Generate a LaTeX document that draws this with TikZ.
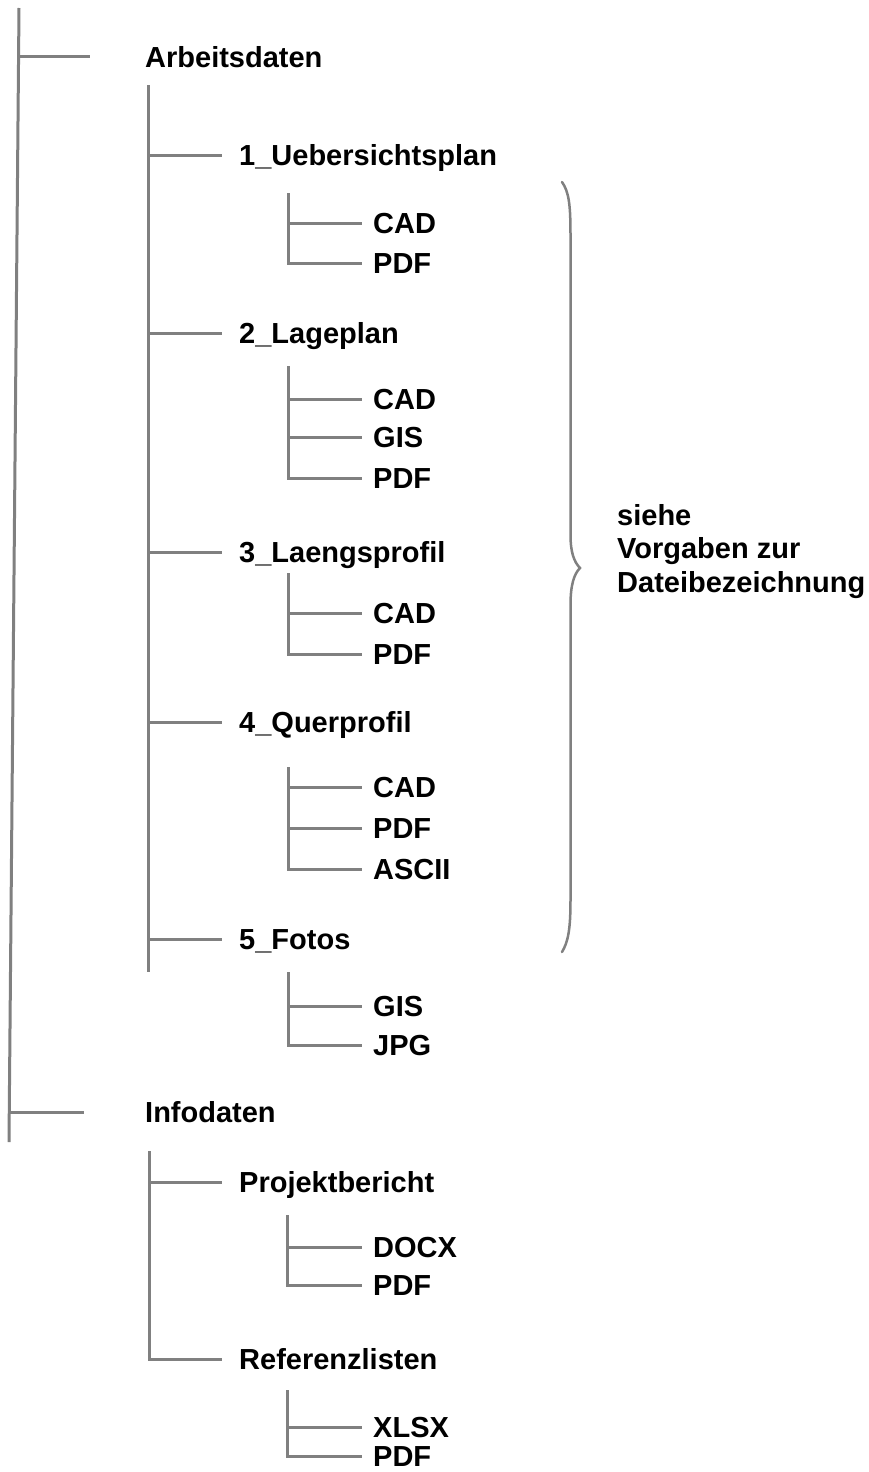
\documentclass[tikz,border=0pt]{standalone}
\usepackage{fontspec}
\setmainfont{Liberation Sans}
\definecolor{linegray}{RGB}{128,128,128}
\tikzset{
  tree/.style={draw=linegray, line width=3pt, line cap=butt, line join=miter},
  lbl/.style={anchor=base west, inner sep=0pt, font=\fontsize{29}{33.5}\selectfont\bfseries},
}
\begin{document}
\begin{tikzpicture}[x=1pt,y=-1pt]
\useasboundingbox (0,0) rectangle (869,1472);
% labels: baseline = tick y + 10
\node[lbl] (arb) at (145,67) {Arbeitsdaten};
\node[lbl] (u1) at (239,165) {1\_Uebersichtsplan};
\node[lbl] (u1cad) at (373,233) {CAD};
\node[lbl] (u1pdf) at (373,273) {PDF};
\node[lbl] (u2) at (239,343) {2\_Lageplan};
\node[lbl] (u2cad) at (373,409) {CAD};
\node[lbl] (u2gis) at (373,447) {GIS};
\node[lbl] (u2pdf) at (373,488) {PDF};
\node[lbl] (u3) at (239,562) {3\_Laengsprofil};
\node[lbl] (u3cad) at (373,623) {CAD};
\node[lbl] (u3pdf) at (373,664) {PDF};
\node[lbl] (u4) at (239,732) {4\_Querprofil};
\node[lbl] (u4cad) at (373,797) {CAD};
\node[lbl] (u4pdf) at (373,838) {PDF};
\node[lbl] (u4asc) at (373,879) {ASCII};
\node[lbl] (u5) at (239,949) {5\_Fotos};
\node[lbl] (u5gis) at (373,1016) {GIS};
\node[lbl] (u5jpg) at (373,1055) {JPG};
\node[lbl] (inf) at (145,1122) {Infodaten};
\node[lbl] (pb) at (239,1192) {Projektbericht};
\node[lbl] (pbdoc) at (373,1257) {DOCX};
\node[lbl] (pbpdf) at (373,1295) {PDF};
\node[lbl] (rl) at (239,1369) {Referenzlisten};
\node[lbl] (rlxls) at (373,1437) {XLSX};
\node[lbl] (rlpdf) at (373,1466) {PDF};
\node[lbl, align=left, anchor=north west] (note) at (617,504) {siehe\\Vorgaben zur\\Dateibezeichnung};
% root spine
\draw[tree] (19,8) -- (9,1142);
\draw[tree] (18.6,57) -- ([xshift=-55pt,yshift=10pt]arb.base west);
\draw[tree] (10,1112) -- ([xshift=-61pt,yshift=10pt]inf.base west);
% Arbeitsdaten level
\draw[tree] (148,85) -- (148,972);
\foreach \n in {u1,u2,u3,u4,u5}
  \draw[tree] ([yshift=10pt]148,0 |- \n.base west) -- ([xshift=-17pt,yshift=10pt]\n.base west);
% level 3 blocks
\draw[tree] (288,193) |- ([xshift=-11pt,yshift=10pt]u1pdf.base west);
\draw[tree] (288,223) -- ([xshift=-11pt,yshift=10pt]u1cad.base west);
\draw[tree] (288,366) |- ([xshift=-11pt,yshift=10pt]u2pdf.base west);
\draw[tree] (288,399) -- ([xshift=-11pt,yshift=10pt]u2cad.base west);
\draw[tree] (288,437) -- ([xshift=-11pt,yshift=10pt]u2gis.base west);
\draw[tree] (288,573) |- ([xshift=-11pt,yshift=10pt]u3pdf.base west);
\draw[tree] (288,613) -- ([xshift=-11pt,yshift=10pt]u3cad.base west);
\draw[tree] (288,767) |- ([xshift=-11pt,yshift=10pt]u4asc.base west);
\draw[tree] (288,787) -- ([xshift=-11pt,yshift=10pt]u4cad.base west);
\draw[tree] (288,828) -- ([xshift=-11pt,yshift=10pt]u4pdf.base west);
\draw[tree] (288,972) |- ([xshift=-11pt,yshift=10pt]u5jpg.base west);
\draw[tree] (288,1006) -- ([xshift=-11pt,yshift=10pt]u5gis.base west);
% Infodaten level
\draw[tree] (149,1151) |- ([xshift=-17pt,yshift=10pt]rl.base west);
\draw[tree] (149,1182) -- ([xshift=-17pt,yshift=10pt]pb.base west);
\draw[tree] (287,1215) |- ([xshift=-11pt,yshift=10pt]pbpdf.base west);
\draw[tree] (287,1247) -- ([xshift=-11pt,yshift=10pt]pbdoc.base west);
\draw[tree] (287,1390) |- ([xshift=-11pt,yshift=10pt]rlpdf.base west);
\draw[tree] (287,1427) -- ([xshift=-11pt,yshift=10pt]rlxls.base west);
% brace
\draw[draw=linegray, line width=2.5pt, line cap=round]
  (562,182) .. controls (569,192) and (570.5,205) .. (570.5,235)
  -- (570.5,535) .. controls (570.5,552) and (574,562) .. (580,568)
  .. controls (574,574) and (570.5,585) .. (570.5,605)
  -- (570.5,900) .. controls (570.5,930) and (568,942) .. (562,952);
\end{tikzpicture}
\end{document}
